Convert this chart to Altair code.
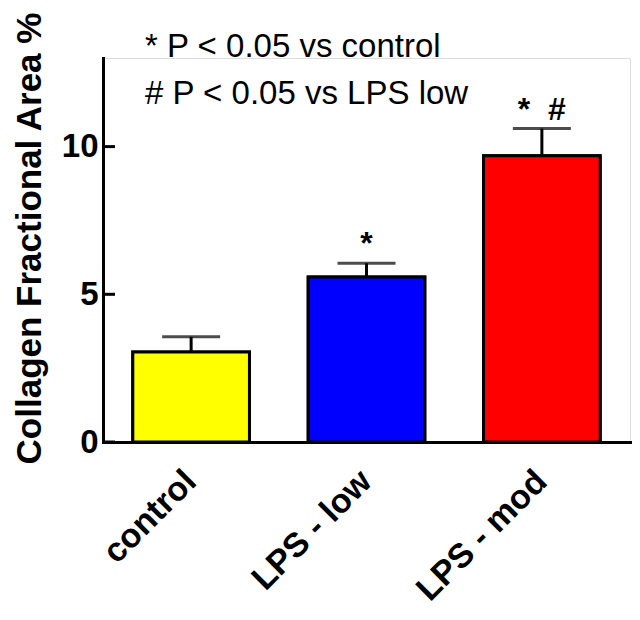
import altair as alt
import pandas as pd

groups = ["control", "LPS - low", "LPS - mod"]
means = [3.05, 5.59, 9.69]
sems = [0.51, 0.46, 0.92]
colors = ["#FFFF00", "#0000FF", "#FF0000"]
sig_labels = ["", "*", "*\u00a0\u00a0#"]
y_ticks = [0, 5, 10]
notes = ["* P < 0.05 vs control", "# P < 0.05 vs LPS low"]

FONT = "Liberation Sans"

df = pd.DataFrame({
    "group": groups,
    "mean": means,
    "upper": [m + s for m, s in zip(means, sems)],
    "color": colors,
    "sig": sig_labels,
})

xenc = alt.X("group:N", sort=groups,
             scale=alt.Scale(paddingInner=0.335, paddingOuter=0.17),
             axis=alt.Axis(title=None, labelAngle=-45, labelAlign="right",
                           labelBaseline="middle", labelFontSize=34,
                           labelFontWeight="bold", labelFont=FONT,
                           labelColor="black", labelPadding=34,
                           ticks=False, tickSize=0, domainColor="black",
                           domainWidth=3, domainCap="square"))

yscale = alt.Scale(domain=[0, 13], nice=False)

bars = alt.Chart(df).mark_bar(stroke="black", strokeWidth=3).encode(
    x=xenc,
    y=alt.Y("mean:Q", scale=yscale,
            axis=alt.Axis(title="Collagen Fractional Area %", values=y_ticks,
                          grid=False, ticks=False, tickSize=0,
                          labelFontSize=33, labelFontWeight="bold",
                          labelFont=FONT, labelColor="black", labelPadding=5,
                          titleFontSize=35, titleFontWeight="bold",
                          titleFont=FONT, titleColor="black",
                          titleX=-56, titleY=180,
                          domainColor="black", domainWidth=3,
                          domainCap="square")),
    color=alt.Color("color:N", scale=None),
)

err_line = alt.Chart(df).mark_rule(color="black", strokeWidth=3).encode(
    x=alt.X("group:N", sort=groups),
    y="mean:Q",
    y2="upper:Q",
)

err_cap = alt.Chart(df).mark_tick(color="black", thickness=3, size=58,
                                  orient="horizontal").encode(
    x=alt.X("group:N", sort=groups),
    y="upper:Q",
)

sig = alt.Chart(df).mark_text(font=FONT, fontSize=32, fontWeight="bold",
                              baseline="alphabetic", dy=-9,
                              color="black").encode(
    x=alt.X("group:N", sort=groups),
    y="upper:Q",
    text="sig:N",
)

ticks_df = pd.DataFrame({"t": y_ticks})
yticks = alt.Chart(ticks_df).mark_rule(color="black", strokeWidth=3).encode(
    y=alt.Y("t:Q", scale=yscale),
    x=alt.value(0),
    x2=alt.value(12),
)

notes_df = pd.DataFrame({"note": notes, "row": [0, 1]})
note1 = alt.Chart(notes_df.iloc[[0]]).mark_text(
    font=FONT, fontSize=33, align="left", baseline="alphabetic", color="black"
).encode(x=alt.value(42), y=alt.value(-1), text="note:N")
note2 = alt.Chart(notes_df.iloc[[1]]).mark_text(
    font=FONT, fontSize=33, align="left", baseline="alphabetic", color="black"
).encode(x=alt.value(42), y=alt.value(46), text="note:N")

chart = alt.layer(bars, err_line, err_cap, bars, yticks, sig, note1, note2).properties(
    width=527, height=384,
    autosize=alt.AutoSizeParams(type="none"),
    padding={"left": 95, "top": 50, "right": 2, "bottom": 176},
).configure_view(stroke=None).configure(background="white")

chart.save("out.html", embed_options={"renderer": "svg", "actions": False})
